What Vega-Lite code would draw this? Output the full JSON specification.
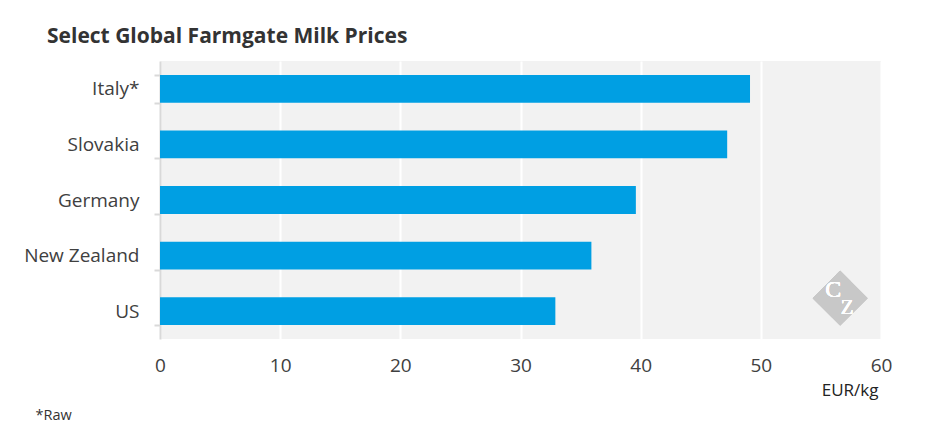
{
  "$schema": "https://vega.github.io/schema/vega-lite/v6.json",
  "autosize": {"type": "none"},
  "width": 721,
  "height": 278,
  "padding": {"left": 160, "top": 61, "right": 64, "bottom": 104},
  "background": "white",
  "title": {
    "text": "Select Global Farmgate Milk Prices",
    "anchor": "start",
    "frame": "group",
    "dx": -113,
    "offset": 5,
    "font": "Open Sans",
    "fontSize": 21,
    "fontWeight": "bold",
    "color": "#333333"
  },
  "config": {
    "view": {"fill": "#f2f2f2", "stroke": null},
    "font": "Open Sans"
  },
  "data": {
    "values": [
      {"country": "Italy*", "price": 49.1},
      {"country": "Slovakia", "price": 47.2},
      {"country": "Germany", "price": 39.6},
      {"country": "New Zealand", "price": 35.9},
      {"country": "US", "price": 32.9}
    ]
  },
  "layer": [
    {
      "mark": {"type": "bar", "color": "#009fe3"},
      "encoding": {
        "y": {
          "field": "country",
          "type": "nominal",
          "sort": null,
          "scale": {"paddingInner": 0.5, "paddingOuter": 0.25},
          "axis": {
            "title": "*Raw",
            "titleAngle": 0,
            "titleAlign": "left",
            "titleBaseline": "alphabetic",
            "titleX": -125,
            "titleY": 358,
            "titleFont": "Open Sans",
            "titleFontSize": 14.5,
            "titleFontWeight": "normal",
            "titleColor": "#333333",
            "domainColor": "#d9d9d9",
            "domainWidth": 2,
            "tickColor": "#d9d9d9",
            "tickWidth": 2,
            "tickSize": 6,
            "tickBand": "extent",
            "labelPadding": 15,
            "labelFontSize": 19,
            "labelColor": "#404040",
            "labelFont": "Open Sans"
          }
        },
        "x": {
          "field": "price",
          "type": "quantitative",
          "scale": {"domain": [0, 60]},
          "axis": {
            "values": [0, 10, 20, 30, 40, 50, 60],
            "title": "EUR/kg",
            "titleAnchor": "end",
            "titleAlign": "right",
            "titleBaseline": "alphabetic",
            "titleX": 718,
            "titleY": 56,
            "titleFont": "Open Sans",
            "titleFontSize": 17,
            "titleFontWeight": "normal",
            "titleColor": "#222222",
            "domain": false,
            "ticks": false,
            "grid": true,
            "gridColor": "white",
            "gridWidth": 2,
            "labelFlush": false,
            "labelPadding": 17,
            "labelFontSize": 19,
            "labelColor": "#404040",
            "labelFont": "Open Sans"
          }
        }
      }
    },
    {
      "mark": {"type": "point", "shape": "diamond", "filled": true, "color": "#c8c8c8", "size": 3000, "opacity": 1, "yOffset": -13},
      "encoding": {
        "x": {"datum": 56.6, "type": "quantitative"},
        "y": {"datum": "US", "type": "nominal"}
      }
    },
    {
      "mark": {"type": "text", "text": "C", "font": "Liberation Serif", "fontSize": 24, "color": "white", "dx": -7, "dy": -21},
      "encoding": {
        "x": {"datum": 56.6, "type": "quantitative"},
        "y": {"datum": "US", "type": "nominal"}
      }
    },
    {
      "mark": {"type": "text", "text": "Z", "font": "Liberation Serif", "fontSize": 21, "color": "white", "dx": 7, "dy": -3},
      "encoding": {
        "x": {"datum": 56.6, "type": "quantitative"},
        "y": {"datum": "US", "type": "nominal"}
      }
    }
  ]
}
